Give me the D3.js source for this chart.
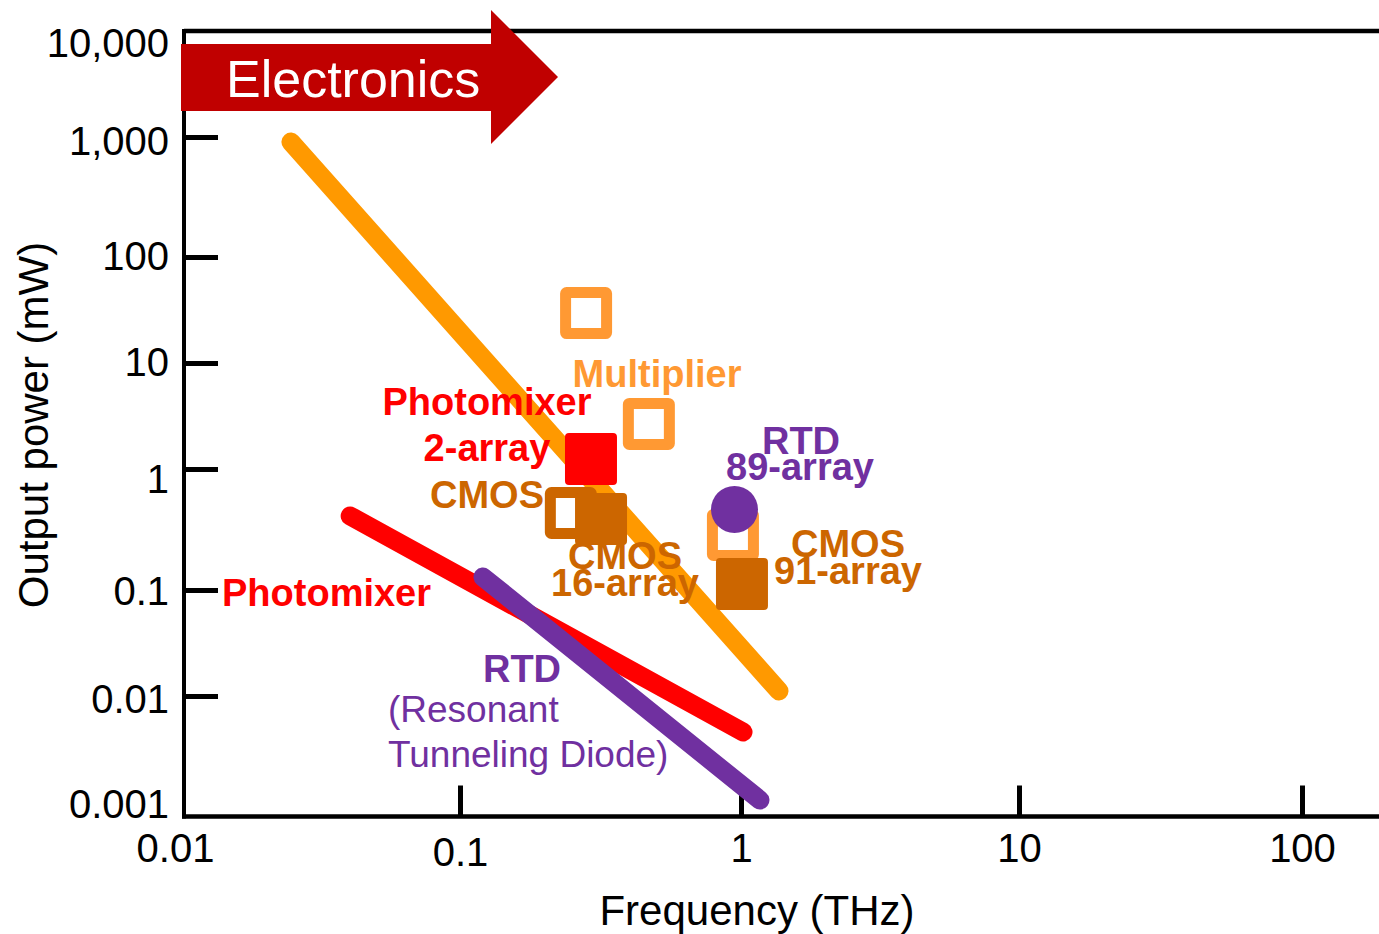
<!DOCTYPE html>
<html>
<head>
<meta charset="utf-8">
<script src="https://cdn.jsdelivr.net/npm/d3@7/dist/d3.min.js"></script>
<style>
  html, body { margin: 0; padding: 0; background: #fff; }
  svg { display: block; font-family: "Liberation Sans", Arial, sans-serif; }
</style>
</head>
<body>
<svg id="chart" width="1379" height="934"></svg>
<script>
// ---------- data ----------
const freqTicks = [0.01, 0.1, 1, 10, 100];
const freqTickLabels = ["0.01", "0.1", "1", "10", "100"];
const powerTicks = [0.001, 0.01, 0.1, 1, 10, 100, 1000, 10000];
const powerTickLabels = ["0.001", "0.01", "0.1", "1", "10", "100", "1,000", "10,000"];

// trend lines [frequency THz, power mW]
const electronicsLine = [[0.0244, 908], [1.37, 0.01115]];
const photomixerLine = [[0.04, 0.409], [1.017, 0.00467]];
const rtdLine = [[0.1207, 0.128], [1.17, 0.00111]];

// individual devices [frequency THz, power mW]
const multiplierPoints = [[0.281, 29.6], [0.47, 2.66], [0.936, 0.285]];
const cmosPoints = [[0.248, 0.433]];
const cmos16ArrayPoints = [[0.3176, 0.386]];
const photomixer2ArrayPoints = [[0.2925, 1.243]];
const cmos91ArrayPoints = [[1.008, 0.112]];
const rtd89ArrayPoints = [[0.948, 0.463]];

// ---------- layout ----------
const W = 1379, H = 934;
const COL = {
  orange: "#FF9900", multi: "#FF9933", brown: "#CC6600",
  red: "#FF0000", purple: "#7030A0", arrow: "#C00000"
};
const svg = d3.select("#chart");

// piecewise log scales (the original figure has slightly uneven decades)
const xS = d3.scaleLog()
  .domain([0.01, 0.1, 1, 10, 100, 1000])
  .range([184, 460, 741, 1019, 1302, 1582]);
const yS = d3.scaleLog()
  .domain([0.001, 0.01, 0.1, 1, 10, 100, 1000, 10000])
  .range([805, 696, 590, 469, 363, 257, 137, 44]);

const plotLeft = xS(0.01), plotBottom = 816.5, plotTop = 31;

// frame lines
svg.append("line").attr("x1", plotLeft).attr("x2", W).attr("y1", plotTop).attr("y2", plotTop)
  .attr("stroke", "#000").attr("stroke-width", 4.5);
svg.append("line").attr("x1", plotLeft).attr("x2", plotLeft).attr("y1", plotTop - 2).attr("y2", plotBottom + 2)
  .attr("stroke", "#000").attr("stroke-width", 4);
svg.append("line").attr("x1", plotLeft - 2).attr("x2", W).attr("y1", plotBottom).attr("y2", plotBottom)
  .attr("stroke", "#000").attr("stroke-width", 4.5);

// y axis
const yLabelNudge = [0, 4, 2, 11, 0, 0, 5, 0];
const yAxis = svg.append("g").attr("transform", `translate(${plotLeft},0)`)
  .call(d3.axisLeft(yS).tickValues(powerTicks)
    .tickFormat((d, i) => powerTickLabels[i])
    .tickSize(-34).tickPadding(15).tickSizeOuter(0));
yAxis.select(".domain").remove();
yAxis.selectAll(".tick line").attr("stroke", "#000").attr("stroke-width", 5)
  .attr("display", (d, i) => (i === 0 || i === powerTicks.length - 1) ? "none" : null);
yAxis.selectAll(".tick text").attr("font-size", 40).attr("fill", "#000")
  .attr("font-family", "Liberation Sans, Arial, sans-serif")
  .attr("y", (d, i) => yLabelNudge[i]);

// x axis
const xAxis = svg.append("g").attr("transform", `translate(0,${plotBottom})`)
  .call(d3.axisBottom(xS).tickValues(freqTicks)
    .tickFormat((d, i) => freqTickLabels[i])
    .tickSize(-31).tickPadding(17).tickSizeOuter(0));
xAxis.select(".domain").remove();
xAxis.selectAll(".tick line").attr("stroke", "#000").attr("stroke-width", 5)
  .attr("display", (d, i) => i === 0 ? "none" : null);
xAxis.selectAll(".tick text").attr("font-size", 40).attr("fill", "#000")
  .attr("font-family", "Liberation Sans, Arial, sans-serif")
  .attr("dx", (d, i) => i === 0 ? -9 : 0)
  .attr("y", (d, i) => i === 1 ? 21 : 17);

// axis titles
svg.append("text").attr("x", 757).attr("y", 925).attr("text-anchor", "middle")
  .attr("font-size", 42).text("Frequency (THz)");
svg.append("text").attr("transform", "translate(48,425) rotate(-90)").attr("text-anchor", "middle")
  .attr("font-size", 42).text("Output power (mW)");

// Electronics arrow
const arrowPts = [[181, 44], [491, 44], [491, 10], [558, 77], [491, 144], [491, 111], [181, 111]];
svg.append("polygon").attr("points", arrowPts.map(p => p.join(",")).join(" "))
  .attr("fill", COL.arrow);
svg.append("text").attr("x", 226).attr("y", 97).attr("font-size", 52).attr("fill", "#fff")
  .text("Electronics");

// trend lines
const lineGen = d3.line().x(d => xS(d[0])).y(d => yS(d[1]));
[[electronicsLine, COL.orange], [photomixerLine, COL.red], [rtdLine, COL.purple]].forEach(([data, c]) => {
  svg.append("path").datum(data).attr("d", lineGen).attr("fill", "none")
    .attr("stroke", c).attr("stroke-width", 19).attr("stroke-linecap", "round");
});

// markers
const S = 52;
function openSquares(data, c) {
  svg.selectAll(null).data(data).enter().append("rect")
    .attr("x", d => xS(d[0]) - (S - 11) / 2).attr("y", d => yS(d[1]) - (S - 11) / 2)
    .attr("width", S - 11).attr("height", S - 11).attr("rx", 1)
    .attr("fill", "#fff").attr("stroke", c).attr("stroke-width", 11).attr("stroke-linejoin", "round");
}
function filledSquares(data, c) {
  svg.selectAll(null).data(data).enter().append("rect")
    .attr("x", d => xS(d[0]) - S / 2).attr("y", d => yS(d[1]) - S / 2)
    .attr("width", S).attr("height", S).attr("rx", 4).attr("fill", c);
}
openSquares(multiplierPoints, COL.multi);
openSquares(cmosPoints, COL.brown);
filledSquares(cmos16ArrayPoints, COL.brown);
filledSquares(photomixer2ArrayPoints, COL.red);
filledSquares(cmos91ArrayPoints, COL.brown);
svg.selectAll(null).data(rtd89ArrayPoints).enter().append("circle")
  .attr("cx", d => xS(d[0])).attr("cy", d => yS(d[1])).attr("r", 23.5).attr("fill", COL.purple);

// annotations
function label(txt, px, py, c, anchor, bold, size) {
  svg.append("text").attr("x", px).attr("y", py).attr("fill", c)
    .attr("text-anchor", anchor || "middle")
    .attr("font-weight", bold === false ? "normal" : "bold")
    .attr("font-size", size || 38).text(txt);
}
label("Multiplier", 657, 387, COL.multi);
label("Photomixer", 487, 415, COL.red);
label("2-array", 487, 461, COL.red);
label("CMOS", 487, 508, COL.brown);
label("CMOS", 625, 569, COL.brown);
label("16-array", 625, 596, COL.brown);
label("RTD", 801, 454, COL.purple);
label("89-array", 800, 480, COL.purple);
label("CMOS", 848, 557, COL.brown);
label("91-array", 848, 584, COL.brown);
label("Photomixer", 222, 606, COL.red, "start");
label("RTD", 522, 682, COL.purple);
label("(Resonant", 388, 722, COL.purple, "start", false, 37);
label("Tunneling Diode)", 388, 767, COL.purple, "start", false, 37);
</script>
</body>
</html>
